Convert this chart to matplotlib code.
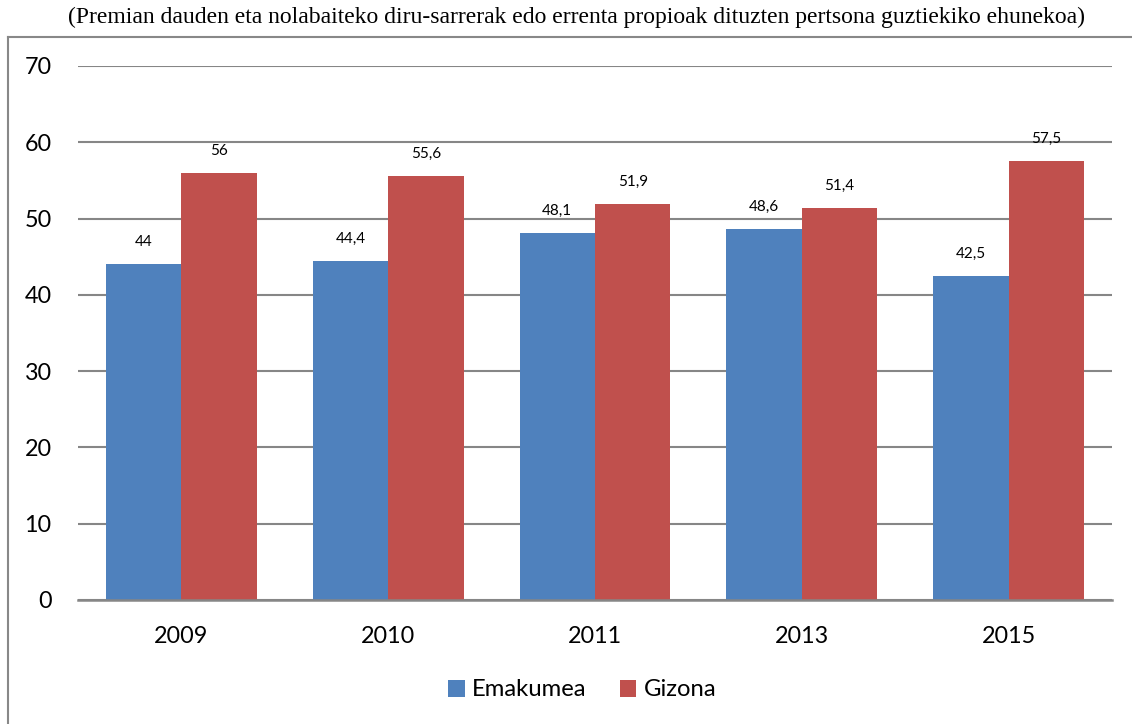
import matplotlib
matplotlib.use("Agg")
import matplotlib.pyplot as plt
from matplotlib.lines import Line2D
import numpy as np

years = ["2009", "2010", "2011", "2013", "2015"]
emakumea = [44, 44.4, 48.1, 48.6, 42.5]
gizona = [56, 55.6, 51.9, 51.4, 57.5]
emakumea_labels = ["44", "44,4", "48,1", "48,6", "42,5"]
gizona_labels = ["56", "55,6", "51,9", "51,4", "57,5"]
series_names = ["Emakumea", "Gizona"]
title = "(Premian dauden eta nolabaiteko diru-sarrerak edo errenta propioak dituzten pertsona guztiekiko ehunekoa)"

blue = "#4F81BD"
red = "#C0504D"
grid_c = "#868686"

plt.rcParams['font.family'] = ['Lato', 'DejaVu Sans']

fig = plt.figure(figsize=(11.32, 7.24), dpi=100)
ax = fig.add_axes([78/1132, 1-600/724, (1112-78)/1132, (600-66)/724])

x = np.arange(len(years))
w = 0.365
b1 = ax.bar(x - w/2, emakumea, w, color=blue, label=series_names[0], zorder=3)
b2 = ax.bar(x + w/2, gizona, w, color=red, label=series_names[1], zorder=3)

for xi, v, lab in zip(x - w/2, emakumea, emakumea_labels):
    ax.annotate(lab, (xi, v), xytext=(0, 22), textcoords="offset pixels",
                ha="center", va="center", fontsize=11, color="#000000")
for xi, v, lab in zip(x + w/2, gizona, gizona_labels):
    ax.annotate(lab, (xi, v), xytext=(0, 22), textcoords="offset pixels",
                ha="center", va="center", fontsize=11, color="#000000")

ax.set_xlim(-0.5, len(years) - 0.5)
ax.set_ylim(0, 70)
ax.set_yticks(np.arange(0, 71, 10))
ax.set_xticks(x)
ax.set_xticklabels(years)
ax.tick_params(axis="both", length=0, labelsize=16.8)
ax.tick_params(axis="y", pad=19)
ax.tick_params(axis="x", pad=19)
ax.yaxis.grid(True, color=grid_c, linewidth=1.5, zorder=0)
for s in ["top", "right", "left"]:
    ax.spines[s].set_visible(False)
ax.spines["bottom"].set_color(grid_c)
ax.spines["bottom"].set_linewidth(1.8)
ax.spines["bottom"].set_zorder(4)

leg = fig.legend(handles=[b1, b2], labels=series_names, loc="center",
                 bbox_to_anchor=(582/1132, 1-690/724), ncol=2, frameon=False,
                 fontsize=17.2, handlelength=0.7, handleheight=0.7,
                 handletextpad=0.3, columnspacing=1.4)

fig.text(577/1132, 1-17/724, title, ha="center", va="center",
         fontsize=17, family=["Liberation Serif"])

fig.add_artist(Line2D([8/1132, 8/1132], [0, 1-37/724], color="#888888", linewidth=1.5))
fig.add_artist(Line2D([8/1132, 1], [1-37/724, 1-37/724], color="#888888", linewidth=1.5))

fig.savefig("out.png", dpi=100)
